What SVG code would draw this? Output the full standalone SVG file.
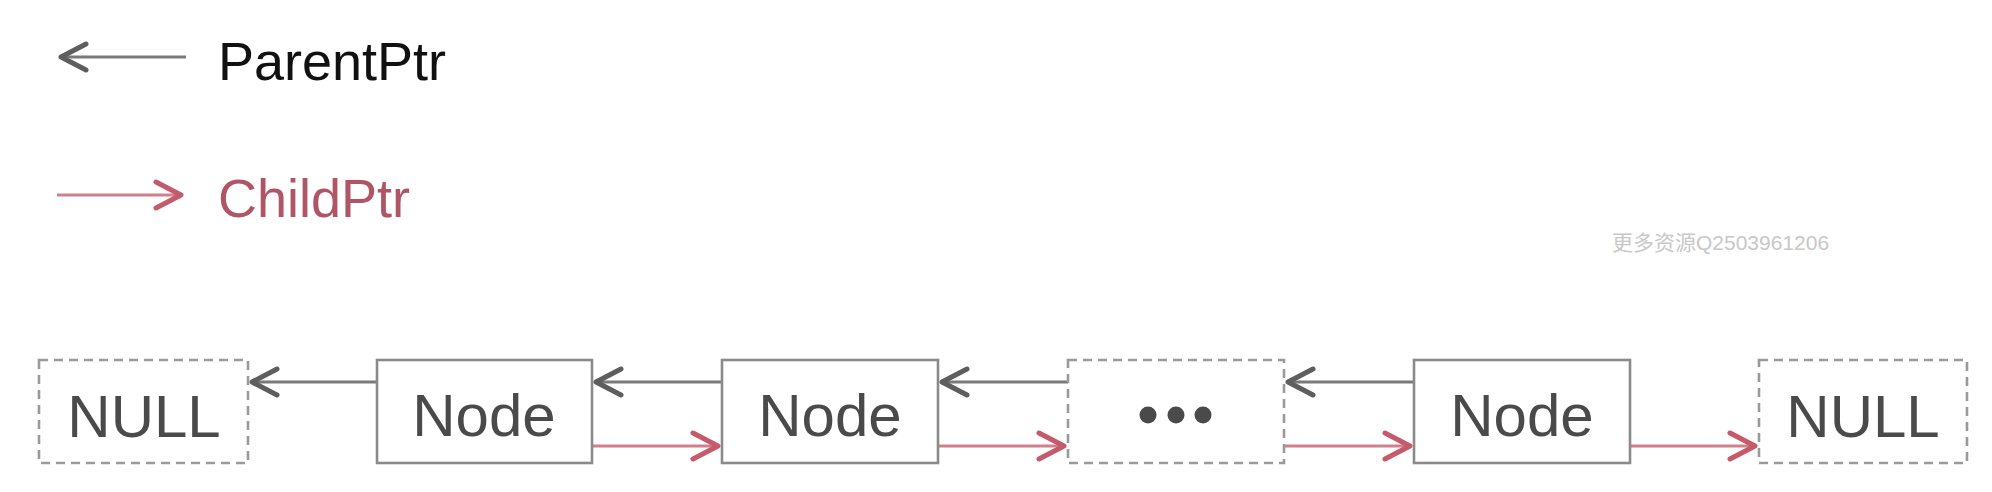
<svg xmlns="http://www.w3.org/2000/svg" width="1992" height="492" viewBox="0 0 1992 492">
<style>
.bg{fill:#ffffff}
.box{fill:#ffffff;stroke:#8a8a8a;stroke-width:2.6}
.dbox{fill:#ffffff;stroke:#9a9a9a;stroke-width:2.6;stroke-dasharray:9 6}
.lbl{font-family:"Liberation Sans",Arial,sans-serif;font-size:60px;fill:#4a4a4a;text-anchor:middle}
.par{stroke:#7a7a7a;stroke-width:3;fill:none}
.chi{stroke:#d0808c;stroke-width:3;fill:none}
.leg{font-family:"Liberation Sans",Arial,sans-serif;font-size:54px}
</style>
<defs>
<marker id="ahP" markerUnits="userSpaceOnUse" markerWidth="40" markerHeight="40" viewBox="-32 -20 40 40" refX="0" refY="0" orient="auto">
<path d="M -25 -13 L 0 0 L -25 13" fill="none" stroke="#5e5e5e" stroke-width="5" stroke-linecap="round" stroke-linejoin="round"/>
</marker>
<marker id="ahC" markerUnits="userSpaceOnUse" markerWidth="40" markerHeight="40" viewBox="-32 -20 40 40" refX="0" refY="0" orient="auto">
<path d="M -25 -13 L 0 0 L -25 13" fill="none" stroke="#c45a6a" stroke-width="5" stroke-linecap="round" stroke-linejoin="round"/>
</marker>
</defs>
<rect class="bg" x="0" y="0" width="1992" height="492"/>

<g id="legend">
<line class="par" x1="186" y1="57" x2="61" y2="57" marker-end="url(#ahP)"/>
<text class="leg" x="218" y="80" fill="#111111">ParentPtr</text>
<line class="chi" x1="57" y1="195" x2="181" y2="195" marker-end="url(#ahC)"/>
<text class="leg" x="218" y="217" fill="#b05565">ChildPtr</text>
</g>

<g id="watermark">
<text x="1612" y="250" font-family="'Liberation Sans','Noto Sans CJK SC',sans-serif" font-size="21" fill="#c8c8c8">更多资源Q2503961206</text>
</g>

<g id="connectors">
<line class="par" x1="377" y1="382" x2="252" y2="382" marker-end="url(#ahP)"/>
<line class="par" x1="722" y1="382" x2="596" y2="382" marker-end="url(#ahP)"/>
<line class="par" x1="1068" y1="382" x2="942" y2="382" marker-end="url(#ahP)"/>
<line class="par" x1="1414" y1="382" x2="1288" y2="382" marker-end="url(#ahP)"/>
<line class="chi" x1="592" y1="446" x2="718" y2="446" marker-end="url(#ahC)"/>
<line class="chi" x1="938" y1="446" x2="1064" y2="446" marker-end="url(#ahC)"/>
<line class="chi" x1="1284" y1="446" x2="1410" y2="446" marker-end="url(#ahC)"/>
<line class="chi" x1="1630" y1="446" x2="1755" y2="446" marker-end="url(#ahC)"/>
</g>

<g id="null-left">
<rect class="dbox" x="39" y="360" width="209" height="103"/>
<text class="lbl" x="144" y="437">NULL</text>
</g>
<g id="node-1">
<rect class="box" x="377" y="360" width="215" height="103"/>
<text class="lbl" x="484" y="436">Node</text>
</g>
<g id="node-2">
<rect class="box" x="722" y="360" width="216" height="103"/>
<text class="lbl" x="830" y="436">Node</text>
</g>
<g id="ellipsis">
<rect class="dbox" x="1068" y="360" width="216" height="103"/>
<circle cx="1148" cy="415" r="8.5" fill="#4a4a4a"/>
<circle cx="1176" cy="415" r="8.5" fill="#4a4a4a"/>
<circle cx="1203" cy="415" r="8.5" fill="#4a4a4a"/>
</g>
<g id="node-3">
<rect class="box" x="1414" y="360" width="216" height="103"/>
<text class="lbl" x="1522" y="436">Node</text>
</g>
<g id="null-right">
<rect class="dbox" x="1759" y="360" width="208" height="103"/>
<text class="lbl" x="1863" y="437">NULL</text>
</g>
</svg>
